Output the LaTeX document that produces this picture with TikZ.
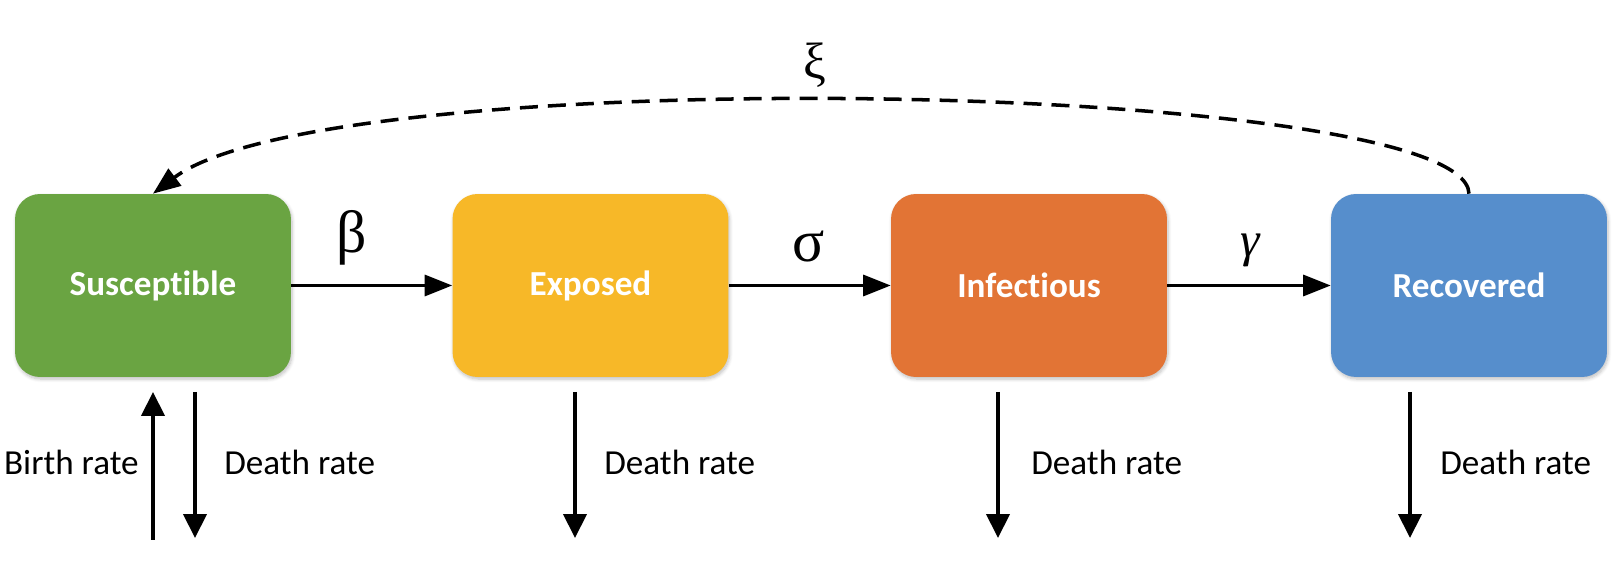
\documentclass[tikz,border=0pt]{standalone}
\usepackage{fontspec}
\setmainfont{Carlito}[Ligatures=NoCommon, Contextuals=NoAlternate]
\newfontfamily\greekfont{Liberation Serif}
\usepackage{tikz}
\usetikzlibrary{arrows.meta, positioning, shadows.blur}
\definecolor{seirgreen}{RGB}{106, 164, 66}
\definecolor{seiryellow}{RGB}{247, 184, 40}
\definecolor{seirorange}{RGB}{226, 116, 53}
\definecolor{seirblue}{RGB}{86, 142, 204}

\begin{document}
\begin{tikzpicture}[x=0.02cm, y=-0.02cm,
    compartment/.style={rounded corners=0.5cm, minimum width=5.52cm, minimum height=3.66cm,
      text=white, font=\fontsize{20}{24}\selectfont\bfseries,
      blur shadow={shadow blur steps=6, shadow xshift=0.6pt, shadow yshift=-1.2pt, shadow opacity=25}},
    flow/.style={line width=1.8pt, -{Triangle[length=0.55cm, width=0.42cm]}},
    drop/.style={line width=2.4pt, -{Triangle[length=0.48cm, width=0.46cm]}},
    feedback/.style={line width=2pt, dash pattern=on 0.36cm off 0.2cm, -{Triangle[length=0.55cm, width=0.42cm]}},
    rate/.style={font=\fontsize{20}{24}\selectfont, inner sep=0pt},
    param/.style={font=\greekfont\fontsize{34}{40}\selectfont, inner sep=0pt}]
    \useasboundingbox (0,0) rectangle (1617,577);

    \node[compartment, fill=seirgreen] (susc) at (153,285.5) {Susceptible};
    \node[compartment, fill=seiryellow] (expo) at (590.5,285.5) {Exposed};
    \node[compartment, fill=seirorange] (infe) at (1029,285.5) {Infectious};
    \node[compartment, fill=seirblue] (reco) at (1469,285.5) {Recovered};

    \draw[flow] (susc) -- (expo);
    \draw[flow] (expo) -- (infe);
    \draw[flow] (infe) -- (reco);
    \draw[feedback] (reco.north) .. controls (1466,80) and (330,60) .. (susc.north);

    \node[param, anchor=base] (beta) at (352,253) {β};
    \node[param, anchor=base] (sigma) at (809,262) {σ};
    \node[param, anchor=base, font=\greekfont\itshape\fontsize{28}{34}\selectfont] (gamma) at (1250,257) {γ};
    \node[param, anchor=base, font=\greekfont\fontsize{29}{34}\selectfont] (xi) at (815,79) {ξ};

    % inflow and outflows
    \coordinate (birthlow) at (153,540);
    \coordinate (birthtop) at (153,392);
    \coordinate (sdtop) at (195,392);
    \coordinate (sdlow) at (195,538);
    \coordinate (edtop) at (575,392);
    \coordinate (edlow) at (575,538);
    \coordinate (idtop) at (998,392);
    \coordinate (idlow) at (998,538);
    \coordinate (rdtop) at (1410,392);
    \coordinate (rdlow) at (1410,538);

    \draw[drop] (birthlow) -- (birthtop);
    \draw[drop] (sdtop) -- (sdlow);
    \draw[drop] (edtop) -- (edlow);
    \draw[drop] (idtop) -- (idlow);
    \draw[drop] (rdtop) -- (rdlow);

    \node[rate, anchor=base east] (birth) at (139,475) {Birth rate};
    \node[rate, anchor=base west] (sdeath) at (224,475) {Death rate};
    \node[rate, anchor=base west] (edeath) at (604,475) {Death rate};
    \node[rate, anchor=base west] (ideath) at (1031,475) {Death rate};
    \node[rate, anchor=base west] (rdeath) at (1440,475) {Death rate};
  \end{tikzpicture}
\end{document}
